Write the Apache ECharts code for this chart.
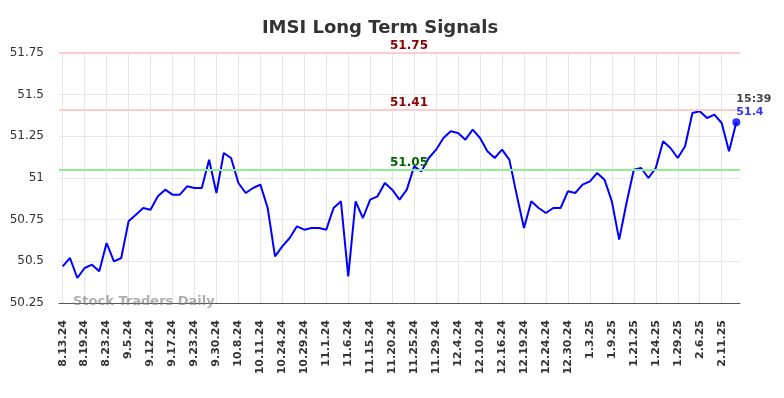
<!DOCTYPE html>
<html><head><meta charset="utf-8">
<script src="https://cdn.jsdelivr.net/npm/echarts@6/dist/echarts.min.js"></script>
<style>html,body{margin:0;padding:0;background:#fff}#c{width:784px;height:398px}</style>
</head><body><div id="c"></div>
<script>
const tickLabels = ['8.13.24','8.19.24','8.23.24','9.5.24','9.12.24','9.17.24','9.23.24','9.30.24','10.8.24','10.11.24','10.24.24','10.29.24','11.1.24','11.6.24','11.15.24','11.20.24','11.25.24','11.29.24','12.4.24','12.10.24','12.16.24','12.19.24','12.24.24','12.30.24','1.3.25','1.9.25','1.21.25','1.24.25','1.29.25','2.6.25','2.11.25'];
const values = [50.47,50.52,50.40,50.46,50.48,50.44,50.61,50.50,50.52,50.74,
50.78,50.82,50.81,50.89,50.93,50.90,50.90,50.95,50.94,50.94,
51.11,50.91,51.15,51.12,50.97,50.91,50.94,50.96,50.82,50.53,
50.59,50.64,50.71,50.69,50.70,50.70,50.69,50.82,50.86,50.41,
50.86,50.76,50.87,50.89,50.97,50.93,50.87,50.93,51.07,51.04,
51.12,51.17,51.24,51.28,51.27,51.23,51.29,51.24,51.16,51.12,
51.17,51.11,50.90,50.70,50.86,50.82,50.79,50.82,50.82,50.92,
50.91,50.96,50.98,51.03,50.99,50.86,50.63,50.85,51.05,51.06,
51.00,51.06,51.22,51.18,51.12,51.19,51.39,51.40,51.36,51.38,
51.33,51.16,51.335];
const resistanceLevels = [51.75, 51.41];
const supportLevels = [51.05];
const lastTime = '15:39';
const lastLabel = '51.4';
const yMin = 50.25, yMax = 51.75, yStep = 0.25;

const categories = values.map((v, i) => i % 3 === 0 ? tickLabels[i / 3] : tickLabels[Math.floor(i / 3)] + '_' + (i % 3));
const lastIdx = values.length - 1;

const levelLine = (val, lineColor, textColor) => ({
  yAxis: val,
  lineStyle: {color: lineColor, width: 2, type: 'solid'},
  label: {show: true, position: 'insideMiddleTop', distance: 1, offset: [9.5, 0],
    formatter: String(val.toFixed(2)), color: textColor, fontWeight: 'bold', fontSize: 12,
    fontFamily: 'DejaVu Sans'}
});

const chart = echarts.init(document.getElementById('c'), null, {renderer: 'canvas'});
chart.setOption({
  animation: false,
  backgroundColor: '#fff',
  title: {text: 'IMSI Long Term Signals', left: 375, textAlign: 'center', top: 14,
    textStyle: {fontFamily: 'DejaVu Sans', fontSize: 18, fontWeight: 'bold', color: '#333'}},
  grid: {left: 59, right: 44, top: 53, bottom: 95, containLabel: false},
  xAxis: {
    type: 'category', data: categories, boundaryGap: true,
    axisLine: {show: true, lineStyle: {color: '#555', width: 1}},
    axisTick: {show: false},
    axisLabel: {interval: 2, rotate: 90, margin: 17, fontFamily: 'DejaVu Sans', fontSize: 11,
      fontWeight: 'bold', color: '#333'},
    splitLine: {show: true, interval: 2, alignWithLabel: true, lineStyle: {color: '#e6e6e6', width: 1}}
  },
  yAxis: {
    type: 'value', min: yMin, max: yMax, interval: yStep,
    axisLine: {show: false}, axisTick: {show: false},
    axisLabel: {margin: 15, fontFamily: 'DejaVu Sans', fontSize: 12, color: '#333',
      formatter: v => String(parseFloat(v.toFixed(2)))},
    splitLine: {show: true, lineStyle: {color: '#e6e6e6', width: 1}}
  },
  graphic: [{type: 'text', left: 73, top: 295, z: 10,
    style: {text: 'Stock Traders Daily', fontFamily: 'DejaVu Sans', fontSize: 13, fontWeight: 'bold',
      fill: 'rgba(120,120,120,0.6)'}}],
  series: [{
    type: 'line', data: values, symbol: 'none',
    lineStyle: {color: '#0000ff', width: 2}, itemStyle: {color: '#0000ff'},
    markLine: {silent: true, symbol: 'none', animation: false,
      data: resistanceLevels.map(v => levelLine(v, '#ffcccc', '#8b0000'))
        .concat(supportLevels.map(v => levelLine(v, '#90ee90', '#006400')))}
  }, {
    type: 'scatter', data: [[lastIdx, values[lastIdx]]], symbolSize: 8,
    itemStyle: {color: '#0000ff'}, z: 5,
    label: {show: true, position: [4, -25.5], align: 'left', verticalAlign: 'top',
      formatter: '{t|' + lastTime + '}\n{v|' + lastLabel + '}',
      rich: {t: {fontFamily: 'DejaVu Sans', fontSize: 11, fontWeight: 'bold', color: '#111', lineHeight: 13},
             v: {fontFamily: 'DejaVu Sans', fontSize: 11, fontWeight: 'bold', color: '#0000ff', lineHeight: 13}}}
  }]
});
</script></body></html>
